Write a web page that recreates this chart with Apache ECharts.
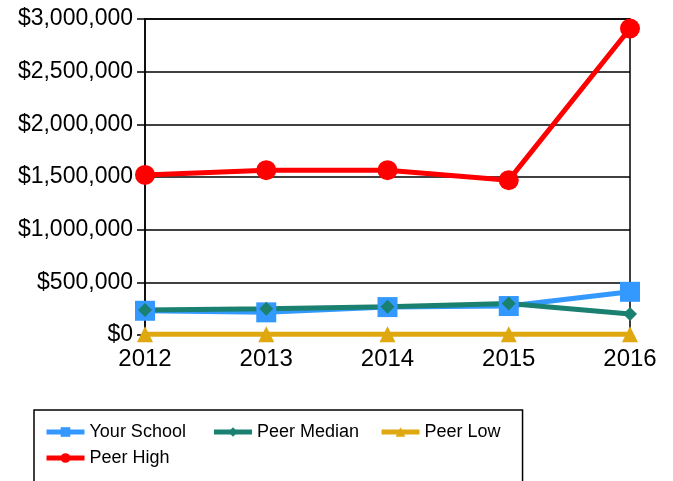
<!DOCTYPE html>
<html>
<head>
<meta charset="utf-8">
<script src="https://cdn.jsdelivr.net/npm/echarts@6/dist/echarts.min.js"></script>
<style>
    html, body {margin: 0; padding: 0; background: #fff;}
    #chart {width: 673px; height: 481px;}
</style>
</head>
<body>
<div id="chart"></div>
<script>
// values
let years = ['2012', '2013', '2014', '2015', '2016']
let yourSchool = [230000, 215000, 265000, 275000, 410000]
let peerMedian = [237000, 250000, 268000, 300000, 200000]
let peerLow = [8000, 8000, 8000, 8000, 8000]
let peerHigh = [1520000, 1565000, 1565000, 1470000, 2910000]

let fmtMoney = function (v) {
    return '$' + String(v).replace(/\B(?=(\d{3})+(?!\d))/g, ',')
}

let myChart = echarts.init(document.getElementById('chart'))

let mkLine = function (name, data, color, symbol, size) {
    return {
        name: name,
        type: 'line',
        data: data,
        symbol: symbol,
        symbolSize: size,
        lineStyle: {width: 5, color: color},
        itemStyle: {color: color},
        emphasis: {disabled: true},
        animation: false
    }
}

let option = {
    textStyle: {fontFamily: 'Liberation Sans, Arial, sans-serif'},
    grid: {
        left: 145,
        right: 43,
        top: 19,
        bottom: 146,
        show: true,
        borderColor: '#000',
        borderWidth: 1.5
    },
    legend: {
        left: 34,
        top: 410,
        width: 470,
        padding: [13, 22, 40, 10],
        borderColor: '#000',
        borderWidth: 1.5,
        itemWidth: 38,
        itemHeight: 12,
        itemGap: 8,
        lineStyle: {width: 5},
        textStyle: {fontSize: 18, color: '#000', lineHeight: 18},
        data: [
            {name: 'Your School', textStyle: {width: 114}},
            {name: 'Peer Median', textStyle: {width: 114}},
            'Peer Low',
            'Peer High'
        ]
    },
    xAxis: {
        type: 'category',
        data: years,
        boundaryGap: false,
        axisLine: {show: false},
        axisTick: {show: false},
        axisLabel: {fontSize: 24, color: '#000', margin: 12}
    },
    yAxis: {
        type: 'value',
        min: 0,
        max: 3000000,
        interval: 500000,
        axisLine: {show: true, lineStyle: {color: '#000', width: 1.5}},
        axisTick: {show: true, length: 8, lineStyle: {color: '#000', width: 1.5}},
        splitLine: {lineStyle: {color: '#000', width: 1.5}},
        axisLabel: {fontSize: 23, color: '#000', margin: 12, formatter: fmtMoney}
    },
    series: [
        mkLine('Your School', yourSchool, '#3399ff', 'rect', 20),
        mkLine('Peer Median', peerMedian, '#1a8070', 'diamond', 14),
        mkLine('Peer Low', peerLow, '#e0a810', 'triangle', 16),
        mkLine('Peer High', peerHigh, '#ff0000', 'circle', 20)
    ]
}
myChart.setOption(option)
</script>
</body>
</html>
